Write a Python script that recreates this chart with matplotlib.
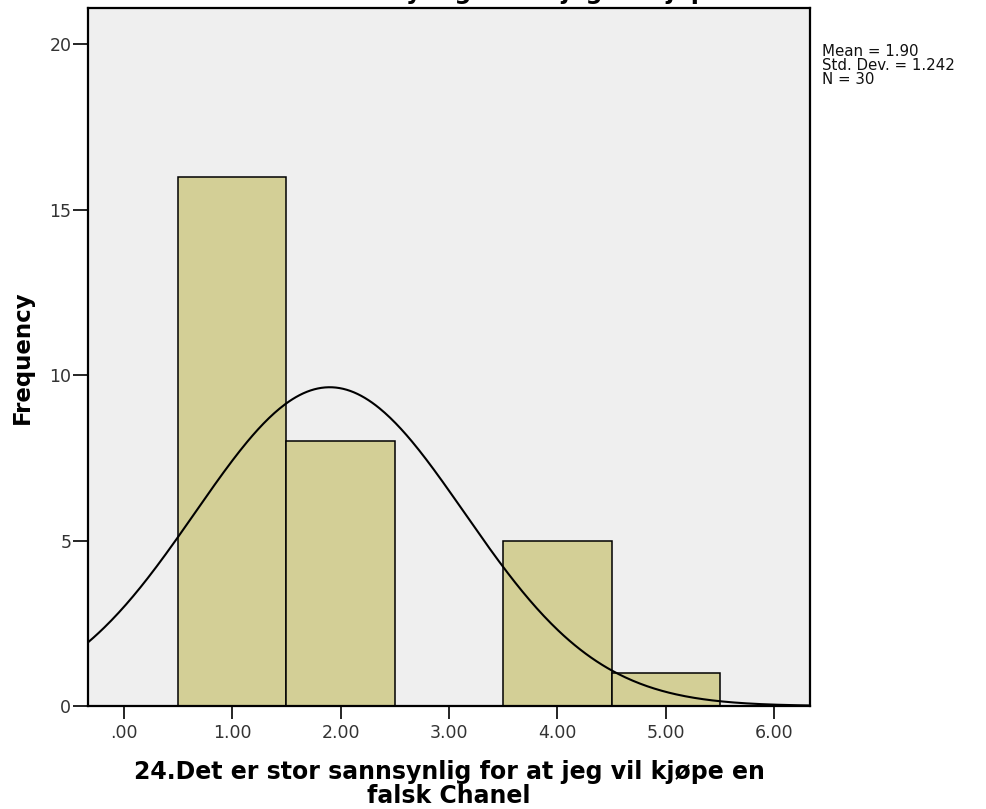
import numpy as np
import matplotlib
matplotlib.use("Agg")
import matplotlib.pyplot as plt

# Histogram data (response categories and their frequencies)
bin_centers = [1, 2, 3, 4, 5]
frequencies = [16, 8, 0, 5, 1]
bin_width = 1.0
mean_value = 1.90
std_dev = 1.242
n_obs = 30

x_ticks = [0, 1, 2, 3, 4, 5, 6]
x_tick_labels = [".00", "1.00", "2.00", "3.00", "4.00", "5.00", "6.00"]
y_ticks = [0, 5, 10, 15, 20]

title_text = "24.Det er stor sannsynlig for at jeg vil kjøpe en"
xlabel_text = "24.Det er stor sannsynlig for at jeg vil kjøpe en\nfalsk Chanel"
ylabel_text = "Frequency"

fig = plt.figure(figsize=(9.86, 8.09), dpi=100)
ax = fig.add_axes([0.0892, 0.1273, 0.7323, 0.8628])
ax.set_facecolor("#efefef")

ax.bar(bin_centers, frequencies, width=bin_width, color="#d3cf96",
       edgecolor="black", linewidth=1.1, zorder=2)

# Normal curve scaled to the histogram counts
xlim = (-0.33, 6.33)
xs = np.linspace(xlim[0], xlim[1], 400)
ys = n_obs * bin_width / (std_dev * np.sqrt(2 * np.pi)) * np.exp(-0.5 * ((xs - mean_value) / std_dev) ** 2)
ax.plot(xs, ys, color="black", linewidth=1.5, zorder=3)

ax.set_xlim(*xlim)
ax.set_ylim(0, 21.1)
ax.set_xticks(x_ticks)
ax.set_xticklabels(x_tick_labels)
ax.set_yticks(y_ticks)
ax.tick_params(axis="both", direction="out", width=1.2,
               labelsize=12.5, labelcolor="#333333", color="black")
ax.tick_params(axis="x", length=9, pad=4)
ax.tick_params(axis="y", length=11, pad=1)
for sp in ax.spines.values():
    sp.set_linewidth(1.6)
    sp.set_color("black")

ax.set_xlabel(xlabel_text, fontsize=17, fontweight="bold", labelpad=13,
              linespacing=1.0)
ax.set_ylabel(ylabel_text, fontsize=16.5, fontweight="bold", labelpad=11)

# Chart title sitting at the very top edge of the canvas
fig.text(0.0892 + 0.7323 / 2, 1 + 1.0 / 809, title_text, ha="center",
         va="baseline", fontsize=17, fontweight="bold")

fig.text(822 / 986, 1 - 44 / 809,
         f"Mean = {mean_value:.2f}\nStd. Dev. = {std_dev:.3f}\nN = {n_obs}",
         ha="left", va="top", fontsize=10.8, linespacing=0.92, color="#111111")

fig.savefig("out.png", dpi=100)
